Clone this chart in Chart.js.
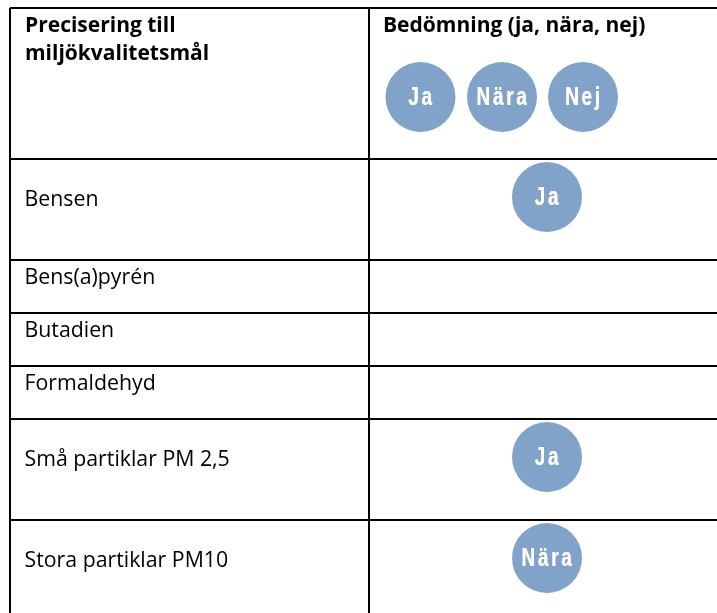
<!DOCTYPE html>
<html lang="sv">
<head>
<meta charset="utf-8">
<title>Bedömning</title>
<script src="https://cdn.jsdelivr.net/npm/chart.js@4"></script>
<style>
  html, body { margin: 0; padding: 0; background: #fff; overflow: hidden; }
  #wrap { width: 717px; height: 613px; }
</style>
</head>
<body>
<div id="wrap"><canvas id="chart"></canvas></div>
<script>
// Table content
const headers = [["Precisering till", "miljökvalitetsmål"], ["Bedömning (ja, nära, nej)"]];
const categories = ["Bensen", "Bens(a)pyrén", "Butadien", "Formaldehyd", "Små partiklar PM 2,5", "Stora partiklar PM10"];
const ratings = ["Ja", null, null, null, "Ja", "Nära"];
const legendRatings = ["Ja", "Nära", "Nej"];

// Table layout, in scale units
const rowHeights = [151, 101, 53, 53, 53, 101, 101];
const columnEdge = 359;
const legendX = [410.5, 492, 573];
const legendY = 89;
const markX = 537;
const markDrop = 38;

const rowTops = [0];
rowHeights.forEach(h => rowTops.push(rowTops[rowTops.length - 1] + h));

const legendPoints = legendRatings.map((r, i) => ({ x: legendX[i], y: legendY, label: r }));
const markPoints = [];
ratings.forEach((r, i) => {
  if (r) markPoints.push({ x: markX, y: rowTops[i + 1] + markDrop, label: r });
});

// Writes the headers, row names and the words inside the circles
const tableText = {
  id: "tableText",
  afterDatasetsDraw(chart) {
    const { ctx, scales: { x, y } } = chart;
    ctx.save();
    ctx.textBaseline = "alphabetic";
    ctx.textAlign = "left";
    ctx.fillStyle = "#000";

    ctx.font = "bold 21px 'Open Sans'";
    headers[0].forEach((line, i) => ctx.fillText(line, x.getPixelForValue(15), y.getPixelForValue(24 + i * 28)));
    ctx.fillText(headers[1][0], x.getPixelForValue(columnEdge + 14), y.getPixelForValue(24));

    ctx.font = "21.3px 'Open Sans'";
    categories.forEach((name, i) => {
      const drop = rowHeights[i + 1] > 60 ? 47 : 23.5;
      ctx.fillText(name, x.getPixelForValue(14.5), y.getPixelForValue(rowTops[i + 1] + drop));
    });

    // the words in the circles are narrow and a little soft, drawn twice to stay white
    ctx.filter = "blur(0.6px)";
    ctx.font = "bold 25px 'Liberation Sans'";
    ctx.letterSpacing = "3.5px";
    ctx.textAlign = "center";
    ctx.fillStyle = "#fff";
    chart.data.datasets.forEach(ds => ds.data.forEach(p => {
      ctx.save();
      ctx.translate(x.getPixelForValue(p.x) + 1, y.getPixelForValue(p.y) + 8);
      ctx.scale(0.76, 1);
      ctx.fillText(p.label, 0, 0);
      ctx.fillText(p.label, 0, 0);
      ctx.restore();
    }));
    ctx.restore();
  }
};

new Chart(document.getElementById("chart"), {
  type: "scatter",
  data: {
    datasets: [
      { label: "Skala", data: legendPoints },
      { label: "Bedömning", data: markPoints }
    ]
  },
  options: {
    responsive: true,
    maintainAspectRatio: false,
    animation: false,
    layout: { autoPadding: false, padding: { left: 10, top: 8, right: 0, bottom: 0 } },
    plugins: { legend: { display: false }, tooltip: { enabled: false } },
    elements: { point: { radius: 35, backgroundColor: "#82a3c9", borderWidth: 0 } },
    scales: {
      x: {
        type: "linear",
        min: 0,
        max: 707,
        border: { display: false },
        grid: { color: "#000", lineWidth: 2, drawTicks: false },
        ticks: { display: false },
        afterBuildTicks: axis => { axis.ticks = [{ value: 0 }, { value: columnEdge }]; }
      },
      y: {
        type: "linear",
        reverse: true,
        min: 0,
        max: 605,
        border: { display: false },
        grid: { color: "#000", lineWidth: 2, drawTicks: false },
        ticks: { display: false },
        afterBuildTicks: axis => { axis.ticks = rowTops.filter(v => v <= 605).map(v => ({ value: v })); }
      }
    }
  },
  plugins: [tableText]
});
</script>
</body>
</html>
